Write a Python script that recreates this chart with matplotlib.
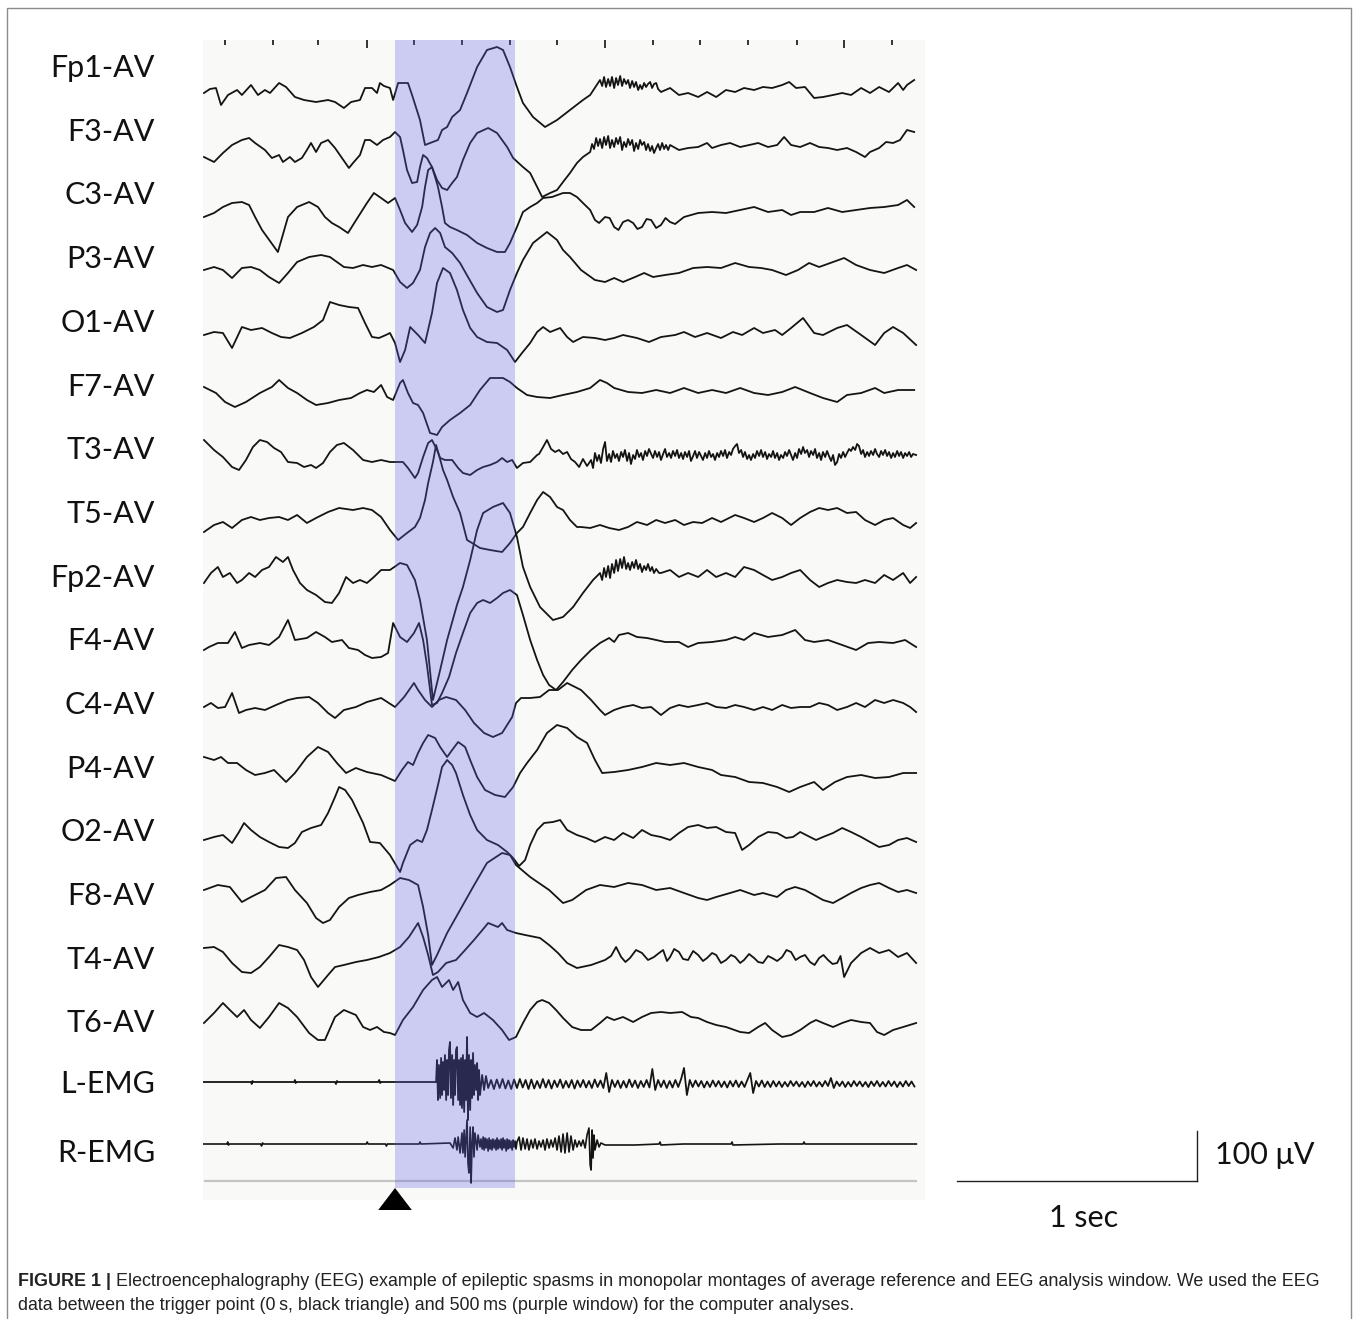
import numpy as np
import matplotlib.pyplot as plt
from matplotlib.patches import Rectangle, Polygon

W, H = 1358, 1319

CHANNELS = ["Fp1-AV", "F3-AV", "C3-AV", "P3-AV", "O1-AV", "F7-AV", "T3-AV", "T5-AV",
            "Fp2-AV", "F4-AV", "C4-AV", "P4-AV", "O2-AV", "F8-AV", "T4-AV", "T6-AV",
            "L-EMG", "R-EMG"]

# EEG traces: (time in ms from trigger, amplitude in uV)
FP1 = [(-796, -2), (-771, 6), (-746, 8), (-725, -26), (-696, -6), (-658, 4), (-638, -6), (-600, 14),
       (-571, -6), (-542, 4), (-521, -2), (-483, 18), (-454, 10), (-417, -10), (-379, -16), (-329, -20),
       (-279, -16), (-250, -20), (-213, -32), (-183, -20), (-146, -16), (-125, 8), (-96, 8), (-75, -2),
       (-63, 18), (-46, 12), (-21, 8), (-8, -16), (13, 18), (54, 18), (71, -6), (104, -56), (125, -106),
       (146, -102), (179, -96), (196, -76), (217, -70), (238, -50), (271, -36), (300, -2), (342, 50),
       (383, 84), (425, 90), (450, 84), (479, 50), (508, 10), (533, -22), (575, -50), (625, -70),
       (675, -56), (729, -36), (783, -16), (813, -6), (854, 24), (863, 12), (871, 30), (879, 10),
       (888, 26), (896, 12), (904, 30), (913, 8), (921, 28), (929, 14), (938, 32), (946, 12), (954, 26),
       (963, 16), (971, 24), (979, 8), (988, 22), (996, 10), (1004, 20), (1013, 4), (1021, 14),
       (1029, 6), (1038, 18), (1046, 10), (1054, 16), (1063, 20), (1071, 8), (1079, 16), (1088, 18),
       (1096, 6), (1108, 0), (1146, 8), (1183, -6), (1221, -2), (1263, -10), (1300, 0), (1338, -10),
       (1379, 4), (1417, 0), (1454, 8), (1496, 4), (1533, 10), (1571, 8), (1613, 14), (1642, 20),
       (1671, 8), (1708, 10), (1746, -12), (1783, -10), (1825, -6), (1863, -2), (1900, -6), (1942, 8),
       (1979, -2), (2017, 10), (2058, 0), (2096, 18), (2117, 4), (2133, 14), (2163, 24)]

F3 = [(-796, -6), (-754, -16), (-717, 2), (-679, 18), (-638, 28), (-608, 32), (-583, 22), (-542, 8),
      (-513, -8), (-483, -2), (-467, -16), (-438, -6), (-417, -16), (-388, -8), (-367, 8), (-350, 22),
      (-329, 4), (-308, 22), (-279, 28), (-250, 12), (-221, -8), (-192, -28), (-175, -18), (-146, -2),
      (-125, 28), (-104, 28), (-75, 18), (-50, 28), (-21, 34), (0, 44), (21, 34), (33, 8), (50, -32),
      (71, -58), (92, -56), (104, -26), (117, -2), (133, -8), (154, -26), (175, -52), (196, -68),
      (217, -72), (238, -58), (258, -46), (283, -12), (313, 22), (342, 42), (388, 52), (425, 42),
      (467, 14), (492, -8), (533, -26), (563, -38), (592, -66), (613, -86), (646, -78), (675, -72),
      (700, -56), (729, -38), (758, -18), (783, -6), (813, 4), (821, 20), (829, 10), (838, 32),
      (846, 16), (854, 30), (863, 12), (871, 34), (879, 18), (888, 36), (896, 12), (904, 28), (913, 14),
      (921, 32), (929, 20), (938, 34), (946, 8), (954, 24), (963, 14), (971, 30), (979, 18), (988, 28),
      (996, 6), (1004, 22), (1013, 10), (1021, 28), (1029, 18), (1038, 24), (1046, 8), (1054, 20),
      (1063, 6), (1071, 16), (1079, 2), (1088, 12), (1096, 20), (1104, 8), (1113, 22), (1121, 10),
      (1129, 18), (1138, 8), (1146, 18), (1183, 8), (1221, 12), (1263, 14), (1300, 22), (1321, 12),
      (1358, 18), (1396, 22), (1438, 14), (1475, 18), (1513, 22), (1554, 14), (1592, 18), (1621, 34),
      (1650, 18), (1688, 14), (1729, 22), (1767, 14), (1804, 12), (1842, 8), (1883, 12), (1921, 4),
      (1958, -6), (1979, 4), (2017, 12), (2046, 24), (2075, 22), (2104, 28), (2133, 48), (2163, 44)]

C3 = [(-796, -2), (-754, 6), (-717, 18), (-679, 26), (-638, 28), (-608, 22), (-583, -2), (-554, -28),
      (-488, -72), (-446, -2), (-408, 18), (-358, 28), (-321, 18), (-292, -2), (-263, -14), (-233, -22),
      (-196, -34), (-154, -2), (-117, 26), (-88, 46), (-58, 36), (-29, 26), (0, 36), (21, 12), (42, -14),
      (71, -32), (92, -18), (113, 18), (125, 58), (138, 92), (154, 98), (167, 78), (179, 58), (196, 18),
      (208, -14), (229, -22), (258, -28), (300, -38), (342, -54), (383, -64), (425, -72), (458, -72),
      (479, -54), (508, -22), (533, 8), (563, 18), (592, 26), (617, 36), (654, 38), (700, 46), (729, 46),
      (758, 38), (783, 26), (813, 12), (833, -8), (850, -14), (875, -2), (894, -4), (913, -22),
      (931, -28), (950, -12), (971, -8), (992, -14), (1010, -26), (1029, -22), (1048, -6), (1067, -8),
      (1088, -24), (1108, -18), (1127, -4), (1146, -12), (1167, -16), (1204, -2), (1263, 6), (1321, 8),
      (1379, 6), (1438, 12), (1496, 18), (1554, 8), (1613, 12), (1650, 2), (1688, 8), (1746, 8),
      (1804, 16), (1863, 8), (1921, 12), (1979, 16), (2038, 18), (2096, 22), (2133, 32), (2163, 18)]

P3 = [(-796, 16), (-754, 22), (-717, 16), (-679, 0), (-638, 20), (-600, 22), (-563, 16), (-525, 2),
      (-483, -10), (-446, 10), (-408, 32), (-358, 42), (-308, 46), (-271, 42), (-242, 32), (-213, 22),
      (-175, 20), (-133, 26), (-96, 22), (-58, 26), (-8, 16), (21, -8), (50, -20), (75, -10), (104, 16),
      (125, 62), (146, 90), (167, 100), (188, 90), (208, 62), (238, 50), (271, 30), (304, 2), (342, -30),
      (383, -58), (425, -68), (450, -64), (479, -24), (508, 10), (533, 36), (575, 70), (633, 92),
      (675, 76), (700, 56), (729, 42), (775, 16), (833, -4), (875, -8), (913, 0), (950, -8), (1000, 2),
      (1038, 10), (1075, 2), (1125, 6), (1183, 10), (1242, 20), (1300, 22), (1358, 20), (1417, 30),
      (1475, 22), (1525, 20), (1571, 16), (1629, 6), (1679, 16), (1725, 30), (1767, 22), (1825, 32),
      (1871, 40), (1921, 26), (1979, 16), (2038, 10), (2096, 20), (2133, 26), (2171, 16)]

O1 = [(-796, 10), (-754, 16), (-717, 14), (-679, -16), (-638, 26), (-600, 20), (-554, 24), (-513, 14),
      (-475, 6), (-438, 4), (-388, 14), (-338, 26), (-300, 40), (-271, 76), (-233, 70), (-192, 66),
      (-154, 64), (-125, 34), (-96, 6), (-67, 4), (-38, 10), (-21, 14), (0, -6), (21, -44), (42, -20),
      (63, 26), (96, 10), (125, -6), (154, 54), (175, 114), (200, 144), (229, 134), (258, 100), (283, 60),
      (313, 24), (342, 6), (383, -4), (425, -6), (467, -20), (500, -44), (529, -26), (563, -6), (592, 16),
      (617, 26), (646, 16), (688, 24), (717, 6), (742, -4), (783, 6), (833, 4), (875, 0), (913, 4),
      (950, 10), (1008, 4), (1058, -4), (1108, 6), (1167, 10), (1204, 16), (1250, 6), (1300, 14),
      (1358, 4), (1408, 16), (1446, 10), (1496, 24), (1533, 14), (1583, 20), (1613, 10), (1650, 24),
      (1700, 44), (1746, 14), (1783, 10), (1842, 24), (1883, 30), (1942, 10), (2000, -10), (2038, 14),
      (2075, 26), (2117, 14), (2171, -10)]

F7 = [(-796, 30), (-746, 18), (-708, 0), (-667, -10), (-621, 0), (-563, 18), (-513, 30), (-483, 44),
      (-446, 28), (-408, 18), (-367, 4), (-329, -6), (-279, -2), (-233, 4), (-183, 8), (-146, 18),
      (-117, 24), (-88, 20), (-58, 34), (-33, 10), (-8, 4), (21, 38), (33, 44), (54, 18), (75, -2),
      (96, -6), (117, -22), (146, -62), (175, -66), (196, -50), (229, -36), (271, -22), (313, -6),
      (354, 24), (396, 48), (450, 48), (479, 40), (508, 28), (550, 14), (592, 10), (646, 8), (700, 14),
      (758, 20), (813, 28), (854, 44), (883, 38), (913, 28), (971, 20), (1029, 18), (1088, 24),
      (1146, 18), (1204, 28), (1263, 18), (1321, 24), (1379, 18), (1438, 28), (1496, 18), (1554, 14),
      (1613, 20), (1667, 30), (1729, 18), (1783, 8), (1842, 0), (1883, 14), (1942, 18), (2000, 28),
      (2038, 18), (2096, 24), (2163, 24)]

T3 = [(-796, 48), (-754, 28), (-717, 14), (-679, -6), (-650, -12), (-621, 8), (-592, 34), (-563, 48),
      (-533, 44), (-504, 32), (-475, 24), (-446, 4), (-408, 2), (-379, -6), (-350, -2), (-329, -8),
      (-300, 2), (-271, 24), (-242, 38), (-213, 42), (-175, 28), (-133, 8), (-96, 4), (-58, 8), (-21, 4),
      (33, 4), (54, -8), (83, -28), (96, -18), (117, 14), (138, 42), (154, 48), (175, 28), (188, 12),
      (208, 8), (238, 8), (263, -8), (283, -18), (313, -22), (342, -12), (367, -6), (396, -2), (425, 4),
      (446, 12), (467, 4), (488, 8), (508, -8), (533, 2), (563, 4), (592, 18), (600, 20), (617, 34),
      (633, 48), (650, 30), (667, 24), (683, 28), (700, 20), (717, 24), (733, 10), (750, 4), (767, -6),
      (783, 10), (800, -4), (817, 8), (825, -8), (833, 22), (842, 6), (850, 18), (858, 2), (867, 30),
      (875, 44), (883, 6), (892, 20), (900, 4), (908, 26), (917, 12), (925, 20), (933, 6), (942, 24),
      (950, 14), (958, 28), (967, 6), (975, 22), (983, 0), (992, 18), (1000, 10), (1008, 28), (1017, 14),
      (1025, 22), (1033, 8), (1042, 26), (1050, 16), (1058, 30), (1067, 20), (1075, 12), (1083, 26),
      (1092, 14), (1100, 24), (1108, 8), (1117, 20), (1125, 30), (1133, 14), (1142, 22), (1150, 12),
      (1158, 26), (1167, 16), (1175, 28), (1183, 12), (1192, 22), (1200, 10), (1208, 24), (1217, 14),
      (1225, 26), (1233, 6), (1242, 16), (1250, 26), (1258, 12), (1267, 24), (1275, 16), (1283, 8),
      (1292, 22), (1300, 12), (1308, 26), (1317, 14), (1325, 20), (1333, 8), (1342, 22), (1350, 14),
      (1358, 26), (1367, 16), (1375, 28), (1383, 12), (1392, 24), (1400, 18), (1408, 30), (1417, 36),
      (1425, 40), (1433, 22), (1442, 28), (1450, 14), (1458, 24), (1467, 10), (1475, 18), (1483, 8),
      (1492, 20), (1500, 12), (1508, 26), (1517, 16), (1525, 28), (1533, 14), (1542, 24), (1550, 10),
      (1558, 20), (1567, 14), (1575, 26), (1583, 12), (1592, 22), (1600, 8), (1608, 18), (1617, 12),
      (1625, 24), (1633, 16), (1642, 28), (1650, 18), (1658, 8), (1667, 22), (1675, 12), (1683, 30),
      (1692, 20), (1700, 34), (1708, 22), (1717, 28), (1725, 14), (1733, 26), (1742, 18), (1750, 30),
      (1758, 12), (1767, 22), (1775, 8), (1783, 24), (1792, 14), (1800, 26), (1808, 16), (1817, 6),
      (1825, 18), (1833, -2), (1842, 4), (1850, 20), (1858, 12), (1867, 24), (1875, 14), (1883, 22),
      (1892, 30), (1900, 26), (1908, 34), (1917, 28), (1925, 40), (1933, 36), (1942, 20), (1950, 28),
      (1958, 14), (1967, 24), (1975, 16), (1983, 26), (1992, 18), (2000, 30), (2008, 20), (2017, 14),
      (2025, 26), (2033, 18), (2042, 28), (2050, 16), (2058, 24), (2067, 12), (2075, 22), (2083, 14),
      (2092, 26), (2100, 16), (2108, 24), (2117, 12), (2125, 22), (2133, 16), (2142, 24), (2150, 14),
      (2158, 20), (2171, 18)]

T5 = [(-796, -12), (-754, 2), (-717, 8), (-679, -4), (-638, 12), (-600, 18), (-563, 12), (-525, 16),
      (-483, 18), (-446, 12), (-408, 22), (-367, 6), (-329, 16), (-279, 28), (-233, 36), (-175, 32),
      (-133, 36), (-96, 32), (-58, 18), (-21, -8), (13, -28), (50, -14), (83, -2), (104, 16), (125, 52),
      (138, 86), (158, 128), (171, 162), (183, 142), (200, 112), (217, 92), (242, 58), (271, 26),
      (300, -28), (321, -34), (354, -44), (396, -48), (446, -52), (479, -34), (508, -14), (533, -2),
      (563, 26), (592, 52), (617, 68), (646, 58), (675, 38), (700, 32), (729, 12), (758, -2), (775, -2),
      (813, -4), (854, 2), (892, -4), (933, -8), (971, -2), (1008, 8), (1050, 2), (1088, 12), (1125, 6),
      (1167, 12), (1204, 2), (1242, 8), (1279, 6), (1321, 16), (1358, 8), (1417, 22), (1454, 16),
      (1496, 8), (1533, 16), (1571, 26), (1613, 16), (1650, 2), (1688, 16), (1729, 28), (1767, 36),
      (1804, 32), (1842, 36), (1883, 26), (1921, 28), (1958, 12), (2000, 2), (2038, 12), (2075, 16),
      (2117, 2), (2146, -4), (2171, 6)]

FP2 = [(-796, 10), (-767, 30), (-738, 42), (-717, 22), (-688, 30), (-658, 10), (-638, 16), (-608, 30),
       (-583, 22), (-554, 36), (-525, 42), (-496, 62), (-467, 52), (-446, 62), (-425, 36), (-396, 10),
       (-367, -4), (-329, -14), (-292, -28), (-263, -30), (-233, -10), (-204, 22), (-175, 10), (-146, 16),
       (-117, 10), (-88, 22), (-58, 36), (-21, 36), (21, 50), (50, 46), (83, 16), (104, -24), (133, -104),
       (158, -224), (188, -164), (217, -104), (258, -34), (283, 2), (313, 56), (342, 116), (367, 150),
       (408, 162), (450, 170), (479, 150), (508, 102), (533, 42), (563, 2), (604, -38), (658, -64),
       (700, -58), (742, -38), (783, -10), (825, 16), (854, 30), (863, 16), (871, 40), (879, 22),
       (888, 44), (896, 20), (904, 48), (913, 30), (921, 56), (929, 34), (938, 58), (946, 40), (954, 62),
       (963, 38), (971, 50), (979, 36), (988, 52), (996, 40), (1004, 56), (1013, 38), (1021, 48),
       (1029, 32), (1038, 44), (1046, 36), (1054, 48), (1063, 34), (1071, 42), (1079, 30), (1088, 38),
       (1100, 30), (1108, 30), (1146, 36), (1183, 22), (1221, 30), (1263, 22), (1300, 36), (1338, 22),
       (1379, 30), (1417, 22), (1454, 42), (1496, 36), (1533, 26), (1571, 16), (1613, 22), (1650, 30),
       (1688, 36), (1729, 16), (1767, 2), (1804, 10), (1842, 16), (1883, 12), (1921, 10), (1958, 16),
       (2000, 10), (2038, 26), (2075, 16), (2117, 30), (2146, 10), (2171, 22)]

F4 = [(-796, 0), (-775, 6), (-738, 14), (-696, 14), (-667, 36), (-638, 4), (-608, 10), (-563, 14),
      (-525, 10), (-483, 26), (-446, 60), (-417, 20), (-367, 24), (-329, 36), (-292, 26), (-263, 16),
      (-221, 20), (-192, 4), (-154, 0), (-125, -10), (-96, -16), (-58, -14), (-29, -6), (-8, 54), (21, 26),
      (50, 16), (79, 34), (100, 54), (117, 20), (133, -30), (154, -110), (175, -106), (196, -86),
      (225, -54), (254, -6), (283, 34), (313, 74), (342, 94), (367, 100), (396, 94), (425, 104),
      (450, 114), (479, 120), (508, 110), (533, 70), (563, 20), (592, -20), (617, -50), (642, -70),
      (671, -80), (700, -64), (738, -40), (775, -20), (817, 0), (854, 14), (892, 24), (913, 16), (933, 30),
      (971, 34), (1008, 26), (1050, 24), (1088, 20), (1125, 16), (1183, 16), (1221, 6), (1263, 14),
      (1321, 16), (1379, 20), (1417, 26), (1454, 20), (1496, 34), (1554, 26), (1613, 30), (1667, 40),
      (1708, 20), (1746, 16), (1804, 20), (1863, 10), (1921, 0), (1971, 14), (2017, 16), (2075, 14),
      (2125, 20), (2171, 6)]

C4 = [(-796, 10), (-767, 18), (-738, 8), (-708, 10), (-679, 38), (-650, -2), (-621, 4), (-583, 8),
      (-542, 4), (-496, 14), (-446, 24), (-408, 28), (-358, 30), (-321, 18), (-279, -2), (-250, -12),
      (-213, 4), (-163, 10), (-117, 20), (-58, 28), (0, 10), (38, 30), (79, 58), (96, 44), (125, 24),
      (154, 10), (183, 24), (213, 30), (254, 24), (292, 4), (329, -22), (371, -42), (408, -50), (446, -42),
      (488, -10), (504, 18), (525, 28), (563, 28), (604, 30), (642, 44), (679, 44), (717, 58), (775, 44),
      (817, 24), (854, 4), (875, -6), (913, 4), (950, 10), (992, 14), (1029, 8), (1067, 10), (1108, -6),
      (1146, 8), (1183, 14), (1221, 10), (1263, 14), (1300, 18), (1338, 10), (1379, 8), (1417, 14),
      (1454, 10), (1496, 4), (1533, 10), (1571, 4), (1613, 14), (1650, 8), (1688, 10), (1729, 10),
      (1767, 18), (1804, 14), (1842, 4), (1883, 10), (1921, 18), (1958, 10), (2000, 24), (2038, 18),
      (2075, 24), (2117, 18), (2146, 10), (2171, 0)]

P4 = [(-796, 34), (-754, 28), (-725, 34), (-696, 22), (-658, 22), (-621, 8), (-583, -2), (-542, 2),
      (-504, 8), (-454, -16), (-417, 2), (-367, 34), (-321, 54), (-279, 44), (-242, 22), (-204, 2),
      (-163, 12), (-117, 4), (-58, -2), (0, -14), (29, 8), (54, 24), (75, 18), (96, 42), (117, 62),
      (138, 78), (167, 72), (188, 54), (217, 34), (238, 48), (263, 64), (292, 54), (313, 28), (342, -6),
      (375, -32), (417, -42), (458, -46), (492, -26), (521, 2), (550, 22), (592, 48), (633, 82), (675, 98),
      (717, 92), (758, 74), (800, 62), (833, 28), (863, 2), (913, 4), (971, 8), (1029, 14), (1088, 22),
      (1146, 18), (1204, 22), (1263, 14), (1321, 8), (1358, -2), (1417, -6), (1475, -16), (1533, -18),
      (1592, -26), (1642, -36), (1688, -26), (1746, -16), (1783, -32), (1833, -16), (1883, -6),
      (1942, -2), (2000, -8), (2058, -6), (2117, 2), (2171, 2)]

O2 = [(-796, -8), (-754, -2), (-717, 2), (-679, -14), (-650, 8), (-629, 26), (-600, 12), (-563, -2),
      (-525, -12), (-483, -22), (-446, -24), (-417, -14), (-388, 8), (-350, 16), (-308, 22), (-279, 46),
      (-250, 78), (-233, 98), (-208, 92), (-179, 72), (-133, 26), (-104, -12), (-63, -14), (-21, -38),
      (21, -72), (33, -54), (63, -18), (92, -8), (113, -12), (133, 12), (154, 52), (179, 102), (196, 138),
      (217, 152), (238, 142), (254, 126), (283, 82), (313, 42), (342, 12), (383, -8), (429, -18),
      (467, -32), (492, -44), (517, -60), (542, -48), (563, -18), (592, 12), (621, 26), (658, 28),
      (688, 32), (717, 12), (758, 2), (796, -4), (833, -12), (875, -2), (913, -8), (950, 6), (992, -4),
      (1029, 12), (1067, 2), (1108, -2), (1146, -8), (1183, 6), (1221, 18), (1263, 22), (1300, 16),
      (1338, 18), (1379, 8), (1417, 6), (1446, -28), (1475, -18), (1513, -2), (1554, 8), (1592, 6),
      (1629, -4), (1658, -2), (1688, 8), (1729, -2), (1754, -8), (1783, -2), (1825, 6), (1863, 16),
      (1900, 8), (1942, -2), (1979, -12), (2017, -22), (2058, -18), (2096, -8), (2133, -4), (2171, -12)]

F8 = [(-796, 16), (-738, 26), (-688, 22), (-638, -8), (-600, 2), (-542, 16), (-496, 40), (-454, 42),
      (-417, 16), (-367, -10), (-329, -40), (-300, -50), (-271, -44), (-233, -18), (-192, 0), (-154, 6),
      (-104, 12), (-58, 16), (-21, 26), (21, 40), (58, 36), (96, 26), (117, -18), (138, -74), (154, -134),
      (175, -114), (217, -70), (271, -24), (325, 22), (383, 70), (446, 90), (479, 86), (504, 66),
      (563, 42), (642, 16), (700, -10), (738, -4), (796, 16), (854, 26), (913, 22), (971, 30), (1029, 26),
      (1088, 16), (1146, 20), (1204, 10), (1263, 0), (1300, -4), (1338, 2), (1396, 10), (1438, 16),
      (1496, 6), (1533, 10), (1592, 2), (1629, 16), (1667, 22), (1708, 16), (1746, 6), (1783, -4),
      (1825, -10), (1863, 0), (1900, 10), (1942, 20), (1979, 26), (2017, 30), (2058, 20), (2096, 12),
      (2133, 16), (2171, 10)]

T4 = [(-796, 24), (-754, 26), (-717, 16), (-679, -6), (-638, -24), (-600, -26), (-563, -14), (-525, 6),
      (-483, 30), (-446, 26), (-408, 20), (-379, 0), (-350, -34), (-321, -54), (-279, -30), (-250, -14),
      (-213, -10), (-163, -4), (-117, 0), (-67, 6), (-21, 14), (21, 26), (58, 46), (96, 74), (117, 46),
      (138, 10), (158, -30), (179, -24), (213, -6), (254, 0), (292, 20), (329, 40), (371, 64), (388, 74),
      (429, 66), (446, 74), (467, 60), (504, 54), (542, 50), (604, 44), (642, 30), (679, 14), (717, -6),
      (758, -16), (817, -10), (875, 0), (900, 8), (921, 26), (942, 6), (960, -4), (979, 4), (1004, 20),
      (1029, 14), (1054, 0), (1079, 6), (1100, 14), (1117, 20), (1133, -2), (1146, 6), (1163, 22),
      (1183, 16), (1200, 2), (1221, 0), (1242, 18), (1263, 10), (1283, -2), (1300, 4), (1321, 14),
      (1338, 10), (1358, -6), (1379, 0), (1400, 10), (1417, 6), (1438, -6), (1454, 0), (1475, 12),
      (1496, 4), (1513, -4), (1533, -6), (1554, 8), (1571, 4), (1592, -2), (1613, 6), (1631, 20),
      (1650, 16), (1669, 0), (1688, 6), (1708, 10), (1729, -4), (1748, -10), (1767, 4), (1785, 10),
      (1804, 0), (1823, -8), (1842, -6), (1856, 8), (1871, -34), (1900, -6), (1942, 14), (1979, 24),
      (2017, 14), (2058, 20), (2096, 6), (2133, 14), (2171, -6)]

T6 = [(-796, -2), (-754, 18), (-717, 38), (-688, 24), (-658, 10), (-629, 24), (-600, 4), (-563, -12),
      (-525, 10), (-483, 38), (-446, 28), (-408, 10), (-358, -22), (-321, -36), (-292, -36), (-250, 10),
      (-213, 24), (-163, 14), (-133, -10), (-104, -16), (-75, -10), (-46, -20), (-21, -22), (0, -26),
      (33, 4), (75, 30), (117, 64), (154, 84), (175, 90), (196, 70), (225, 84), (242, 64), (263, 80),
      (283, 44), (313, 18), (342, 10), (371, 18), (408, 4), (446, -16), (475, -36), (504, -30), (533, -2),
      (563, 24), (592, 40), (613, 44), (642, 38), (671, 24), (700, 8), (738, -10), (775, -16), (817, -16),
      (854, -2), (883, 10), (913, 4), (950, 10), (992, 0), (1029, 10), (1067, 18), (1108, 20), (1146, 18),
      (1196, 20), (1233, 10), (1263, 8), (1300, 0), (1338, -6), (1379, -10), (1438, -20), (1475, -22),
      (1513, -10), (1542, -2), (1571, -16), (1613, -30), (1650, -26), (1688, -16), (1729, -2), (1754, 4),
      (1783, -2), (1825, -10), (1863, -2), (1900, 4), (1942, 0), (1979, -2), (2008, -20), (2038, -26),
      (2075, -16), (2117, -10), (2171, -2)]

# EMG: quiet line and burst as (ms, uV) pairs, plus the left tail sampled every 12 ms
L_EMG = [(-800, 4), (-600, 4), (-597, 0), (-594, 6), (-590, 4), (-420, 4), (-417, 8), (-414, 2),
         (-410, 4), (-250, 4), (-246, 0), (-242, 6), (-238, 4), (-70, 4), (-66, 8), (-62, 2), (-58, 4),
         (171, 4), (175, 48), (179, -32), (183, 38), (188, -28), (192, 52), (196, -22), (200, 44),
         (204, -12), (208, 58), (213, -32), (217, 48), (221, -22), (225, 68), (229, 84), (233, -28),
         (238, 58), (242, -42), (246, 48), (250, -22), (254, 68), (258, 74), (263, -32), (267, 48),
         (271, -42), (275, 52), (279, -48), (283, 58), (288, -56), (292, 48), (296, -32), (300, 94),
         (304, -72), (308, 58), (313, -52), (317, 48), (321, -28), (325, 62), (329, -22), (333, 38),
         (338, -12), (342, 42), (346, -32), (350, 28), (354, -22), (363, 18), (371, -12), (379, 16),
         (388, -8)]
L_EMG_TAIL_START = 400
L_EMG_TAIL_STEP = 12
L_EMG_TAIL = [8, -10, 9, -8, 10, -9, 7, -10, 9, -8,
              10, -7, 8, -10, 9, -9, 6, -8, 10, -7,
              8, -9, 7, -6, 9, -8, 6, -7, 8, -9,
              7, -6, 8, -7, 6, -8, 9, -6, 7, -8,
              22, -16, 8, -6, 7, -8, 6, -7, 9, -6,
              7, -8, 6, -6, 8, -7, 30, -12, 8, -6,
              7, -8, 6, -7, 8, -6, 10, 32, -22, 8,
              -6, 7, -5, 6, -7, 5, -6, 7, -5, 6,
              -6, 5, -7, 6, -5, 7, -6, 5, -6, 8,
              22, -18, 6, -5, 7, -6, 5, -6, 6, -5,
              5, -6, 4, -5, 6, -4, 5, -5, 4, -6,
              5, -4, 6, -5, 4, -5, 6, -4, 12, -8,
              5, -4, 5, -6, 4, -5, 6, -4, 5, -5,
              4, -6, 5, -4, 6, -5, 4, -5, 6, -4,
              5, -6, 4, -5, 6, -4, 5, -5]

R_EMG = [(-800, 4), (-700, 4), (-697, 8), (-694, 2), (-690, 4), (-560, 4), (-556, 0), (-552, 6),
         (-548, 4), (-120, 4), (-116, 8), (-112, 4), (-40, 4), (-36, 0), (-32, 4), (100, 4), (104, 8),
         (108, 4), (229, 6), (242, -4), (250, 16), (258, -8), (263, 18), (271, -14), (279, 26),
         (283, -14), (288, 32), (292, -22), (300, 52), (304, -34), (308, -54), (313, 38), (317, -74),
         (321, 6), (325, 38), (329, -22), (333, 26), (342, -8), (346, 22), (354, -2), (358, 14),
         (363, -6), (367, 18), (371, -8), (375, 16), (379, -4), (383, 14), (388, -10), (392, 16),
         (396, -6), (400, 12), (404, -8), (408, 14), (413, -4), (417, 12), (421, -8), (425, 16),
         (429, -6), (433, 12), (438, -4), (442, 14), (446, -8), (450, 16), (454, -4), (458, 12),
         (463, -10), (467, 14), (471, -6), (475, 12), (479, -4), (483, 10), (488, -8), (492, 12),
         (496, -2), (500, 10), (504, -6), (508, 8), (517, 18), (525, -8), (533, 16), (542, -6), (550, 14),
         (558, -8), (567, 12), (575, -4), (583, 14), (592, -6), (600, 10), (608, -2), (617, 12), (625, -8),
         (633, 14), (642, -4), (650, 12), (658, -2), (667, 16), (675, -8), (683, 20), (692, -12),
         (700, 24), (708, -14), (717, 26), (725, -12), (733, 20), (742, -8), (750, 12), (758, -2),
         (767, 10), (775, 0), (783, 12), (792, -4), (800, 22), (808, 36), (813, -38), (817, -48),
         (821, 32), (825, -24), (829, 22), (833, -8), (842, 12), (850, -2), (858, 6), (875, 2), (1000, 2),
         (1100, 4), (1104, 8), (1108, 2), (1200, 4), (1400, 4), (1404, 8), (1408, 2), (1600, 4),
         (1700, 4), (1704, 8), (1708, 4), (2000, 4), (2172, 4)]

SIGNALS = [FP1, F3, C3, P3, O1, F7, T3, T5, FP2, F4, C4, P4, O2, F8, T4, T6]

# time ticks along the top (ms), the long ones mark whole seconds
TICK_MS = [-708, -508, -321, -117, 79, 279, 479, 675, 875, 1075, 1271, 1471, 1675, 1871, 2071]
LONG_TICK_MS = [-117, 875, 1871]
WINDOW_MS = (0, 500)
SCALE_MS = 1000
SCALE_UV = 100

SPACING = 124  # uV between channel baselines

fig = plt.figure(figsize=(W / 100, H / 100), dpi=100)
fig.patch.set_facecolor("white")

ax = fig.add_axes([203 / W, 1 - 1200 / H, 722 / W, 1160 / H])
ax.set_facecolor("#f9f9f8")
ax.set_xlim(-800, 2208)
ax.set_ylim(-2216, 104)
for s in ax.spines.values():
    s.set_visible(False)
ax.set_xticks([])
ax.set_yticks([])

trace_kw = dict(color="#141414", lw=1.3, zorder=2, solid_joinstyle="round")
for i, sig in enumerate(SIGNALS):
    t, v = zip(*sorted(sig))
    ax.plot(t, np.array(v) - i * SPACING, **trace_kw)

# EMG channels
t, v = zip(*L_EMG)
tail_t = L_EMG_TAIL_START + L_EMG_TAIL_STEP * np.arange(len(L_EMG_TAIL))
lt = np.concatenate([t, tail_t])
lv = np.concatenate([v, L_EMG_TAIL])
ax.plot(lt, lv - 16 * SPACING, color="#141414", lw=1.3, zorder=2)
t, v = zip(*R_EMG)
ax.plot(t, np.array(v) - 17 * SPACING, color="#141414", lw=1.2, zorder=2)

# light grey bottom line of the EEG page
ax.plot([-792, 2171], [-2178, -2178], color="#c4c4c4", lw=1.6, zorder=1)

# ticks along the top
for tm in TICK_MS:
    ln = 16 if tm in LONG_TICK_MS else 9
    ax.plot([tm, tm], [104, 104 - ln], color="#333333", lw=1.4, zorder=2,
            solid_capstyle="butt")

# analysis window overlay
ax.add_patch(Rectangle((WINDOW_MS[0], -2192), WINDOW_MS[1] - WINDOW_MS[0], 2296,
                       facecolor="#5e5be0", alpha=0.29, edgecolor="none", zorder=3))

# trigger triangle
ax.add_patch(Polygon([(0, -2192), (-70, -2236), (70, -2236)], closed=True,
                     facecolor="black", edgecolor="none", clip_on=False, zorder=4))

# scale bar
x_end = 3342
ax.plot([x_end - SCALE_MS, x_end], [-2178, -2178], color="#222222", lw=1.0, clip_on=False)
ax.plot([x_end, x_end], [-2178, -2178 + SCALE_UV], color="#222222", lw=1.0, clip_on=False)
ax.text(x_end + 75, -2126, f"{SCALE_UV} μV", fontsize=22, family=["Lato", "DejaVu Sans"],
        ha="left", va="center", color="#111111", clip_on=False)
ax.text(x_end - SCALE_MS / 2 + 25, -2252, "1 sec", fontsize=22, family=["Lato", "DejaVu Sans"],
        ha="center", va="center", color="#111111", clip_on=False)

# channel labels
label_px = [68 + 63.7 * i for i in range(16)] + [1084, 1153]
for name, ypx in zip(CHANNELS, label_px):
    fig.text(155 / W, 1 - ypx / H, name, fontsize=22, family=["Lato", "DejaVu Sans"],
             ha="right", va="center", color="#111111")

# outer frame
fig.add_artist(Rectangle((7 / W, -0.01), 1344 / W, 1 - 8 / H + 0.01, transform=fig.transFigure,
                         fill=False, edgecolor="#8a8a8a", lw=1.0))

# caption
cap_font = ["Liberation Sans", "DejaVu Sans"]
cap_size = 12.9
bold = fig.text(18 / W, 1 - 1282 / H, "FIGURE 1 |", fontsize=cap_size, family=cap_font,
                weight="bold", ha="left", va="center", color="#222222")
fig.canvas.draw()
bb = bold.get_window_extent()
fig.text((bb.x1 + 5) / W, 1 - 1282 / H,
         "Electroencephalography (EEG) example of epileptic spasms in monopolar montages of "
         "average reference and EEG analysis window. We used the EEG",
         fontsize=cap_size, family=cap_font, ha="left", va="center", color="#222222")
fig.text(18 / W, 1 - 1305 / H,
         "data between the trigger point (0\u2009s, black triangle) and 500\u2009ms (purple window) "
         "for the computer analyses.",
         fontsize=cap_size, family=cap_font, ha="left", va="center", color="#222222")

fig.savefig("out.png", dpi=100)
